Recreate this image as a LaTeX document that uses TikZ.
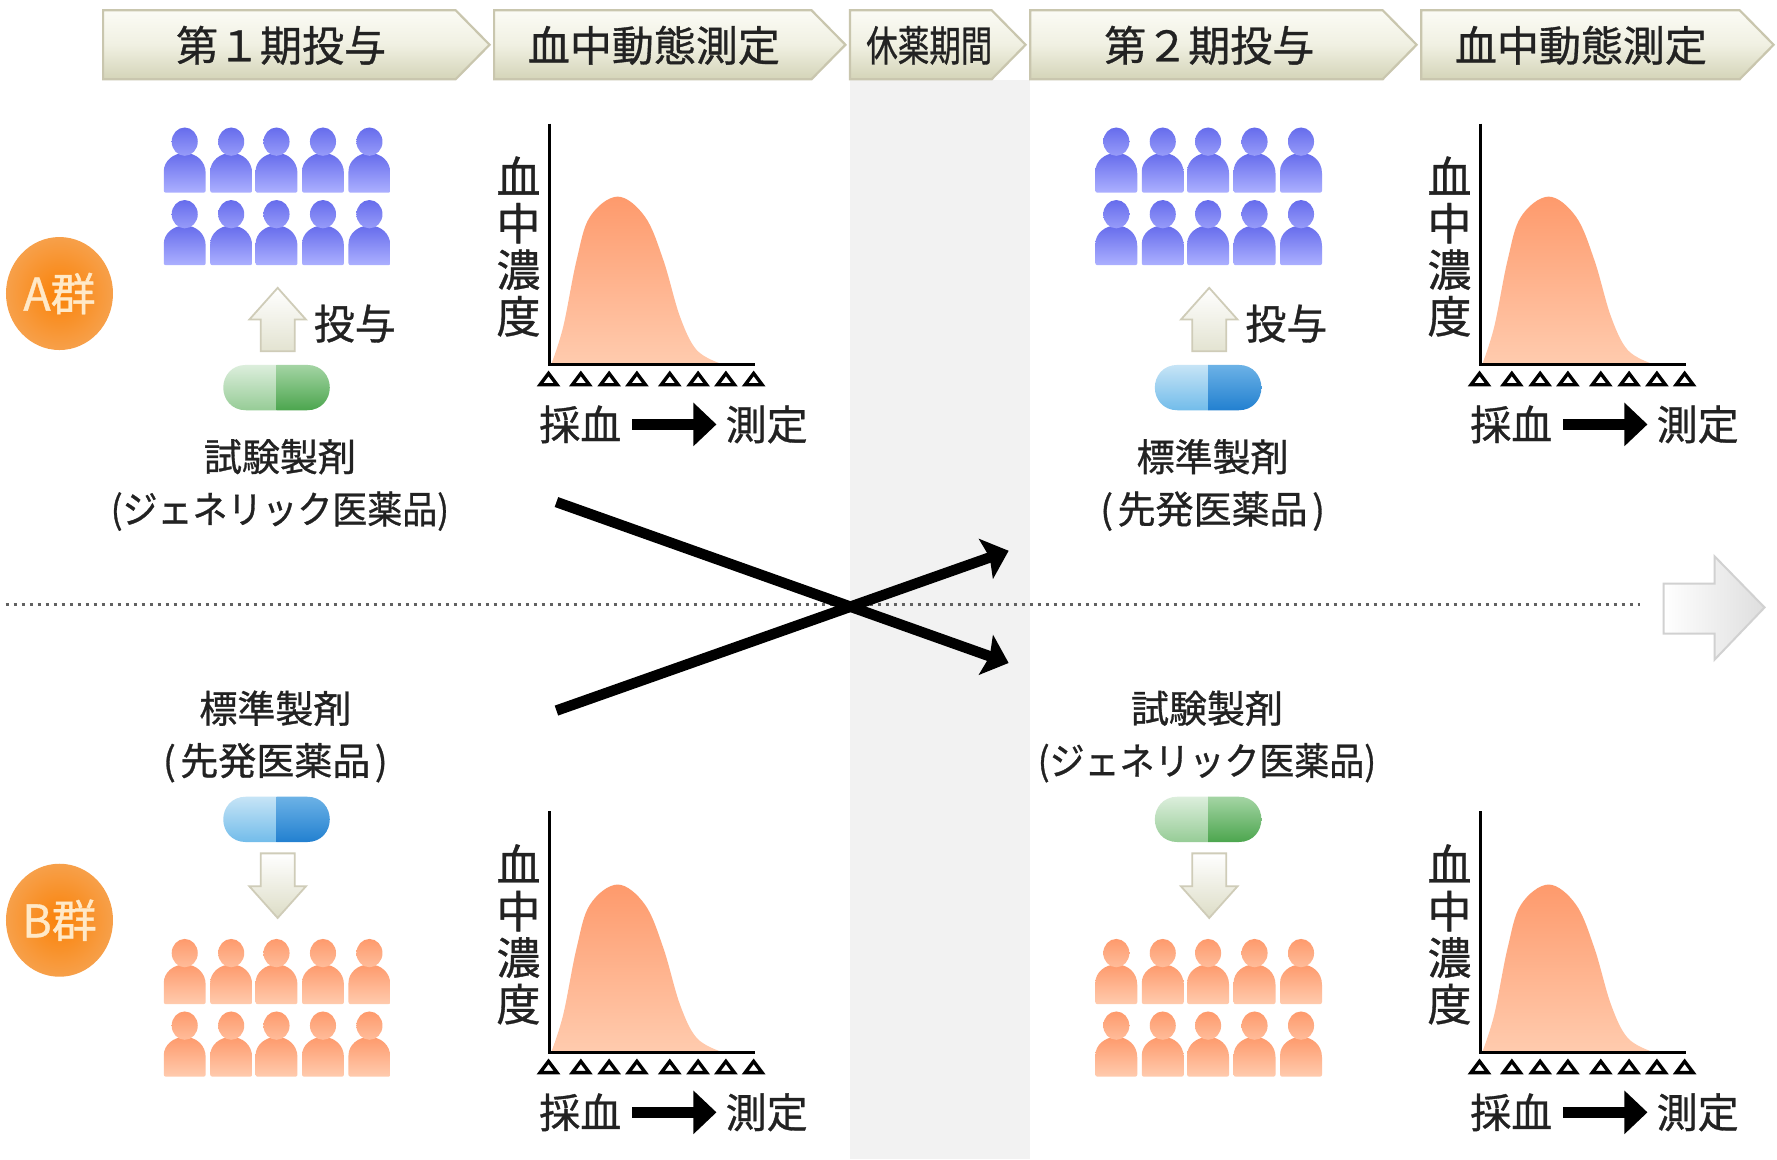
\documentclass[tikz,border=0pt]{standalone}
\usepackage{fontspec}
\setmainfont{Noto Sans CJK JP}[RawFeature={embolden=0.8}]
\usetikzlibrary{arrows.meta,shapes.geometric}
\definecolor{txt}{HTML}{222222}
\tikzset{
  headbox/.style={draw=headline,line width=2.2pt,top color=headtop,bottom color=headbot,middle color=headmid},
  headtext/.style={font=\fontsize{42}{46}\selectfont,text=txt,inner sep=0pt},
  midtext/.style={font=\fontsize{41}{46}\selectfont,text=txt,inner sep=0pt},
  drugtext/.style={font=\fontsize{38}{42}\selectfont,text=txt,inner sep=0pt},
  subtext/.style={font=\fontsize{38}{42}\selectfont,text=txt,inner sep=0pt},
  vtext/.style={font=\fontsize{44}{46.5}\selectfont,text=txt,inner sep=0pt,align=center},
  grpball/.style={ellipse,inner sep=0pt,minimum width=107pt,minimum height=113pt,inner color=ballin,outer color=ballout,
     text=balltext,font=\fontsize{45}{48}\selectfont},
  axisline/.style={line width=3pt,black},
  samplemark/.style={draw=black,line width=3.4pt,fill=white,line join=miter},
  flowarrow/.style={line width=10.5pt,black,-{Triangle[length=23pt,width=42pt]}},
  crossarrow/.style={line width=10.5pt,black,-{Stealth[length=24pt,width=42pt,inset=4pt]}},
  blockarrow/.style={draw=arrline,line width=1.8pt},
}
\definecolor{headline}{HTML}{C9C6AE}
\definecolor{headtop}{HTML}{FBFBF5}
\definecolor{headmid}{HTML}{F0F0E2}
\definecolor{headbot}{HTML}{D4D4B8}
\definecolor{ballin}{HTML}{FA8208}
\definecolor{ballout}{HTML}{F7A04A}
\definecolor{balltext}{HTML}{FFE9C8}
\definecolor{arrline}{HTML}{CFCCB8}
\definecolor{blueA}{HTML}{666CEC}
\definecolor{blueB}{HTML}{ACB0FF}
\definecolor{oraA}{HTML}{FE9A6C}
\definecolor{oraB}{HTML}{FFCBAE}
\definecolor{greenLA}{HTML}{DCEEDC}
\definecolor{greenLB}{HTML}{96CC96}
\definecolor{greenRA}{HTML}{A4D4A4}
\definecolor{greenRB}{HTML}{4CA64E}
\definecolor{bluLA}{HTML}{C6E4F6}
\definecolor{bluLB}{HTML}{72BCEA}
\definecolor{bluRA}{HTML}{6CB2E6}
\definecolor{bluRB}{HTML}{2280D0}
% chevron: x0, x-body-end, x-tip
\newcommand{\chevron}[3]{\path[headbox] (#1,9) -- (#2,9) -- (#3,39.5) -- (#2,70) -- (#1,70) -- cycle;}
% crowd: offset x, top y, colour A, colour B
\newcommand{\crowd}[4]{%
  \foreach \ry in {0,64}{\foreach \cx in {163,204,244,285,326}{%
    \path[top color=#3,bottom color=#4,rounded corners=2pt] ({\cx+#1-18.5},{#2+\ry+57}) -- ({\cx+#1-18.5},{#2+\ry+40})
      [sharp corners] .. controls ({\cx+#1-18.5},{#2+\ry+29}) and ({\cx+#1-10},{#2+\ry+22}) .. ({\cx+#1},{#2+\ry+22})
      .. controls ({\cx+#1+10},{#2+\ry+22}) and ({\cx+#1+18.5},{#2+\ry+29}) .. ({\cx+#1+18.5},{#2+\ry+40})
      [rounded corners=2pt] -- ({\cx+#1+18.5},{#2+\ry+57}) -- cycle;
    \path[top color=#3,bottom color=#4!70!#3] ({\cx+#1},{#2+\ry+12}) ellipse [x radius=11.5,y radius=12.5];
  }}}
% capsule: centre x, top y, left A,B, right A,B
\newcommand{\capsule}[6]{%
  \path[top color=#3,bottom color=#4] (#1,#2) -- ({#1-27},#2) .. controls ({#1-40},#2) and ({#1-47},{#2+10}) .. ({#1-47},{#2+20})
    .. controls ({#1-47},{#2+30}) and ({#1-40},{#2+40}) .. ({#1-27},{#2+40}) -- (#1,{#2+40}) -- cycle;
  \path[top color=#5,bottom color=#6] (#1,#2) -- ({#1+27},#2) .. controls ({#1+40},#2) and ({#1+47},{#2+10}) .. ({#1+47},{#2+20})
    .. controls ({#1+47},{#2+30}) and ({#1+40},{#2+40}) .. ({#1+27},{#2+40}) -- (#1,{#2+40}) -- cycle;}
% up and down block arrows
\newcommand{\uparr}[2]{\path[blockarrow,top color=white,bottom color=headbot!65] (#1,#2) -- ({#1+25},{#2+28}) -- ({#1+15},{#2+28}) -- ({#1+15},{#2+56}) -- ({#1-15},{#2+56}) -- ({#1-15},{#2+28}) -- ({#1-25},{#2+28}) -- cycle;}
\newcommand{\downarr}[2]{\path[blockarrow,top color=white,bottom color=headbot!80] ({#1-15},#2) -- ({#1+15},#2) -- ({#1+15},{#2+29}) -- ({#1+25},{#2+29}) -- (#1,{#2+57}) -- ({#1-25},{#2+29}) -- ({#1-15},{#2+29}) -- cycle;}
% chart: name, dx, dy
\newcommand{\chart}[3]{%
  \path[top color=oraA,bottom color=oraB] plot[smooth,tension=0.6] coordinates {
    ({486.7+#2},{320.6+#3}) ({497+#2},{288.2+#3}) ({508.8+#2},{229.4+#3}) ({520.6+#2},{191.2+#3}) ({545+#2},{173.5+#3})
    ({569.1+#2},{191.2+#3}) ({585.3+#2},{229.4+#3}) ({600+#2},{279.4+#3}) ({614.7+#2},{308.8+#3}) ({635.3+#2},{320.6+#3})} -- cycle;
  \draw[axisline] ({485+#2},{109+#3}) -- ({485+#2},{322+#3}) -- ({666+#2},{322+#3});
  \foreach \tx in {484,512.5,537.5,562,591,616,640.5,665}{%
    \path[samplemark] ({\tx+#2},{329.5+#3}) -- ({\tx+7.5+#2},{339.5+#3}) -- ({\tx-7.5+#2},{339.5+#3}) -- cycle;}
  \node[vtext] (#1v) at ({457.5+#2},{217.5+#3}) {血\\中\\濃\\度};
  \node[midtext] (#1s) at ({512+#2},{374.5+#3}) {採血};
  \node[midtext] (#1m) at ({676.5+#2},{374.5+#3}) {測定};
  \draw[flowarrow] (#1s.east |- #1s.center) ++(11pt,0) -- ([xshift=-9pt]#1m.west |- #1m.center);}
\begin{document}
\begin{tikzpicture}[x=1.13329pt,y=-1.13329pt]
\useasboundingbox (0,0) rectangle (1568,1022.7);
\fill[white] (0,0) rectangle (1568,1022.7);
\fill[black!5] (750,71) rectangle (909,1022.7);
% headers
\chevron{91}{402}{432}
\chevron{436}{716}{746}
\chevron{750}{875}{905}
\chevron{909}{1220}{1250}
\chevron{1254}{1535}{1565}
\node[headtext] (h1) at (248,40) {第１期投与};
\node[headtext] (h2) at (577,40) {血中動態測定};
\node[headtext] (h3) at (820,40) {\scalebox{0.75}[1]{休薬期間}};
\node[headtext] (h4) at (1067,40) {第２期投与};
\node[headtext] (h5) at (1395,40) {血中動態測定};
% dotted divider and right arrow
\coordinate (dl) at (5,533.8);
\coordinate (dr) at (1447,533.8);
\draw[line width=3pt,dash pattern=on 3pt off 5pt,black!62] (dl) -- (dr);
\path[draw=black!18,line width=2pt,left color=white,right color=black!13] (1468,515) -- (1513,515) -- (1513,491) -- (1557,536) -- (1513,582) -- (1513,559) -- (1468,559) -- cycle;
% groups
\node[grpball] (ga) at (52.5,259) {A群};
\node[grpball] (gb) at (52.5,812) {B群};
% crowds
\crowd{0}{113}{blueA}{blueB}
\crowd{822}{113}{blueA}{blueB}
\crowd{0}{829}{oraA}{oraB}
\crowd{822}{829}{oraA}{oraB}
% capsules
\capsule{244}{322}{greenLA}{greenLB}{greenRA}{greenRB}
\capsule{1066}{322}{bluLA}{bluLB}{bluRA}{bluRB}
\capsule{244}{703}{bluLA}{bluLB}{bluRA}{bluRB}
\capsule{1066}{703}{greenLA}{greenLB}{greenRA}{greenRB}
% block arrows
\uparr{245}{254}
\uparr{1067}{254}
\downarr{245}{753}
\downarr{1067}{753}
\node[midtext] (t1) at (313,285.5) {投与};
\node[midtext] (t2) at (1135,285.5) {投与};
% drug labels
\node[drugtext] (d1) at (247,403) {試験製剤};
\node[subtext] (d1s) at (247,451) {\scalebox{0.92}[1]{(ジェネリック医薬品)}};
\node[drugtext] (d2) at (1070,403) {標準製剤};
\node[subtext] (d2s) at (1070,451) {(\hspace{0.12em}先発医薬品\hspace{0.12em})};
\node[drugtext] (d3) at (243,625) {標準製剤};
\node[subtext] (d3s) at (243,673) {(\hspace{0.12em}先発医薬品\hspace{0.12em})};
\node[drugtext] (d4) at (1065,625) {試験製剤};
\node[subtext] (d4s) at (1065,673) {\scalebox{0.92}[1]{(ジェネリック医薬品)}};
% charts
\chart{ca}{0}{0}
\chart{cb}{821.5}{0}
\chart{cc}{0}{607}
\chart{cd}{821.5}{607}
% crossing arrows
\coordinate (c1s) at (491,443);
\coordinate (c1e) at (890,585);
\coordinate (c2s) at (491,627);
\coordinate (c2e) at (890,486);
\draw[crossarrow] (c1s) -- (c1e);
\draw[crossarrow] (c2s) -- (c2e);
\end{tikzpicture}
\end{document}
